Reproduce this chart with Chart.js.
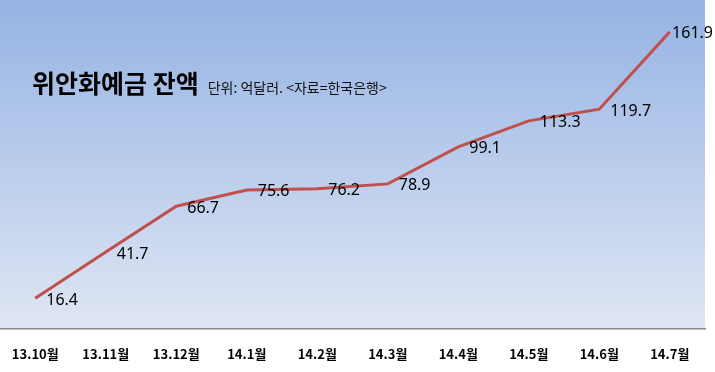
<!DOCTYPE html>
<html>
<head>
<meta charset="utf-8">
<script src="https://cdn.jsdelivr.net/npm/chart.js@4"></script>
<style>
  body { margin: 0; background: #fff; }
  #wrap { position: relative; width: 715px; height: 372px; }
  #title { position: absolute; left: 32px; top: 64px; font-family: "Noto Sans CJK KR"; white-space: nowrap; }
  #title b { font-size: 25px; font-weight: 700; color: #000; }
  #title span { font-size: 14px; color: #111; margin-left: 9px; }
</style>
</head>
<body>
<div id="wrap">
  <canvas id="balance" width="715" height="372"></canvas>
  <div id="title"><b>위안화예금 잔액</b><span>단위: 억달러. &lt;자료=한국은행&gt;</span></div>
</div>
<script>
const months = ['13.10월', '13.11월', '13.12월', '14.1월', '14.2월', '14.3월', '14.4월', '14.5월', '14.6월', '14.7월'];
const balance = [16.4, 41.7, 66.7, 75.6, 76.2, 78.9, 99.1, 113.3, 119.7, 161.9];

const bgGradient = {
    id: 'bgGradient',
    beforeDraw(chart) {
        const { ctx, chartArea } = chart;
        const g = ctx.createLinearGradient(0, chartArea.top, 0, chartArea.bottom);
        g.addColorStop(0, '#95b3e4');
        g.addColorStop(1, '#dfe6f3');
        ctx.save();
        ctx.fillStyle = g;
        const left = Math.max(chartArea.left, 0);
        ctx.fillRect(left, chartArea.top, chartArea.right - left, chartArea.bottom - chartArea.top);
        ctx.restore();
    }
};

const valueLabels = {
    id: 'valueLabels',
    afterDatasetsDraw(chart) {
        const { ctx } = chart;
        const pts = chart.getDatasetMeta(0).data;
        ctx.save();
        ctx.font = '16px "Noto Sans"';
        ctx.fillStyle = '#000';
        ctx.textBaseline = 'middle';
        pts.forEach((p, i) => {
            const txt = String(balance[i]);
            let x = p.x + 11;
            const w = ctx.measureText(txt).width;
            if (x + w > chart.width - 2) x = chart.width - 2 - w;
            ctx.fillText(txt, x, p.y + 2);
        });
        ctx.restore();
    }
};

new Chart(document.getElementById('balance'), {
    type: 'line',
    data: {
        labels: months,
        datasets: [{
            data: balance,
            borderColor: '#c0504d',
            borderWidth: 3,
            pointRadius: 0,
            tension: 0
        }]
    },
    options: {
        responsive: false,
        animation: false,
        layout: { padding: { left: -3, right: 10, top: 0, bottom: -8 } },
        plugins: {
            legend: { display: false },
            tooltip: { enabled: false }
        },
        scales: {
            x: {
                offset: true,
                grid: { display: false, drawTicks: false },
                border: { color: '#8a8a8a', width: 1.5 },
                ticks: {
                    color: '#000',
                    padding: 18,
                    maxRotation: 0,
                    font: { family: '"Noto Sans CJK KR"', size: 13, weight: 'bold' }
                },
                afterFit(scale) {
                    // let the axis start slightly left of the canvas edge
                    scale.paddingLeft = -3;
                    scale.paddingRight = 0;
                }
            },
            y: {
                display: false,
                min: 0,
                max: 179.3
            }
        }
    },
    plugins: [bgGradient, valueLabels]
});
</script>
</body>
</html>
